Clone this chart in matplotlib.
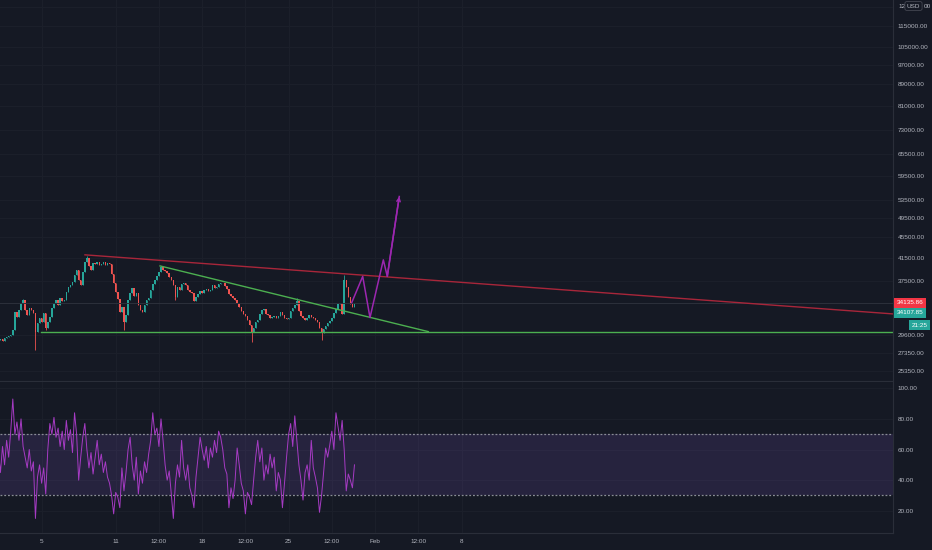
import numpy as np
import matplotlib.pyplot as plt
import matplotlib.transforms as mtransforms
from matplotlib.ticker import NullLocator

plt.rcParams['font.family'] = ['Liberation Sans', 'DejaVu Sans']

# BTCUSD 4h candles, 1 Jan 2021 12:00 -> 30 Jan 2021 08:00 (x = day of January)
first_day = 1.5
candle_step = 1 / 6
first_open = 29300
closes = [
    29000, 29130, 28880,
    29260, 29390, 29520, 29650, 30300, 32800,
    32080, 33090, 34120, 34570, 33090, 32360,
    33380, 33090, 32650, 30040, 31250, 31940,
    31390, 32650, 30570, 31390, 32080, 33380,
    34120, 34570, 33820, 34870, 34420, 34570,
    35800, 36600, 36930, 37410, 38580, 39430,
    37750, 36930, 39090, 40850, 41580, 40130,
    39430, 40670, 40500, 40850, 40320, 40500,
    40850, 40320, 40670, 40500, 38750, 37250,
    35800, 34720, 32800, 33520, 31390, 32360,
    34570, 35650, 36440, 35180, 35650, 33820,
    33090, 32800, 33820, 34570, 34870, 36120,
    37090, 37750, 38420, 39090, 39950, 39430,
    39260, 38920, 38250, 37750, 36930, 35030,
    36600, 36120, 37090, 37250, 36930, 36120,
    35800, 35650, 34420, 35030, 35500, 35960,
    35650, 36120, 36280, 35960, 36120, 36930,
    36440, 36600, 37090, 37250, 37250, 36770,
    36280, 35500, 35180, 34870, 34570, 34120,
    33520, 32940, 32500, 32220, 31660, 30980,
    30040, 30570, 31390, 31660, 32500, 33090,
    33230, 32500, 32360, 31940, 32080, 32220,
    31940, 32220, 32800, 32360, 31940, 31800,
    31940, 32940, 33380, 33820, 34420, 32940,
    32220, 31940, 31660, 31940, 32360, 32080,
    31940, 31660, 31390, 30570, 29910, 30430,
    30840, 31250, 31530, 31940, 32650, 33230,
    33970, 34120, 32500, 37750, 36600, 35030,
    33970, 33520, 34107.85,
]
wick_high_idx = [12, 43, 79, 145, 168]
wick_high = [34780, 41950, 40100, 34800, 38580]
wick_low_idx = [18, 23, 61, 86, 123, 157]
wick_low = [27700, 30300, 30300, 34570, 28750, 29000]

rsi = [
    58, 45, 62,
    50, 66, 55, 72, 93, 70,
    78, 66, 80, 62, 55, 48,
    60, 46, 52, 15, 42, 50,
    38, 48, 31, 60, 77, 70,
    81, 68, 74, 62, 72, 60,
    79, 66, 73, 58, 84, 70,
    40, 55, 68, 77, 60, 48,
    58, 44, 55, 66, 50, 57,
    45, 52, 42, 38, 30, 18,
    32, 29, 22, 48, 33, 45,
    60, 68, 50, 40, 55, 31,
    46, 38, 52, 45, 57, 66,
    84, 70, 74, 62, 80, 66,
    50, 40, 46, 31, 15, 38,
    50, 42, 66, 48, 40, 50,
    35, 30, 22, 42, 55, 68,
    60, 53, 62, 48, 61, 55,
    66, 58, 72, 68, 60, 48,
    44, 22, 35, 28, 40, 61,
    50, 38, 33, 18, 32, 29,
    24, 40, 55, 66, 52, 61,
    40, 50, 44, 57, 48, 55,
    33, 45, 40, 22, 38, 55,
    70, 77, 62, 82, 66, 50,
    40, 27, 45, 50, 40, 66,
    48, 42, 35, 19, 30, 45,
    61, 55, 63, 72, 60, 84,
    75, 66, 79, 60, 33, 44,
    40, 35, 50,
]

# drawings (day, price anchors)
red_line_days = [8.51, 73.94]
red_line_prices = [42130, 32510]
green_diag_days = [14.59, 36.31]
green_diag_prices = [40130, 30080]
green_flat_days = [4.93, 73.94]
green_flat_prices = [30080, 30080]
path_days = [30.11, 31.0, 31.59, 32.67, 32.99, 33.96]
path_prices = [34160, 38330, 31990, 41210, 38330, 54420]

price_ticks = [125000, 115000, 105000, 97000, 89000, 81000, 73000, 65500, 59500,
               53500, 49500, 45500, 41500, 37500, 29600, 27350, 25350]
rsi_ticks = [20, 40, 60, 80, 100]
date_ticks = [5, 11, 14.5, 18, 21.5, 25, 28.5, 32, 35.5, 39]
date_labels = ['5', '11', '12:00', '18', '12:00', '25', '12:00', 'Feb', '12:00', '8']
mark_price = 34135.86

bg = '#151924'
grid_col = '#1c202b'
sep_col = '#2a2e39'
txt_col = '#b2b5be'
up_col = '#26a69a'
down_col = '#ef5350'
fs = 4.6

W, H = 932, 550
fig = plt.figure(figsize=(W / 100, H / 100), dpi=100, facecolor=bg)


def px_box(x0, y0, x1, y1):
    return [x0 / W, 1 - y1 / H, (x1 - x0) / W, (y1 - y0) / H]


ax = fig.add_axes(px_box(0, 0, 893, 381))
ax_rsi = fig.add_axes(px_box(0, 382, 893, 533), sharex=ax)

for a in (ax, ax_rsi):
    a.set_facecolor(bg)
    a.set_axisbelow(True)
    a.grid(True, color=grid_col, lw=0.7)
    for s in ('top', 'left'):
        a.spines[s].set_visible(False)
    for s in ('bottom', 'right'):
        a.spines[s].set_color(sep_col)
        a.spines[s].set_linewidth(0.8)
    a.yaxis.tick_right()
    a.tick_params(axis='both', length=0, labelsize=fs, colors=txt_col)
    a.tick_params(axis='y', pad=3.5)

# candles
days = first_day + np.arange(len(closes)) * candle_step
c = np.array(closes, dtype=float)
o = np.array([first_open] + closes[:-1], dtype=float)
body_lo = np.minimum(o, c)
body_hi = np.maximum(o, c)
highs = body_hi.copy()
lows = body_lo.copy()
highs[wick_high_idx] = wick_high
lows[wick_low_idx] = wick_low
cols = np.where(c >= o, up_col, down_col)

ax.set_yscale('log')
ax.vlines(days, lows, highs, colors=cols, lw=0.6)
ax.bar(days, body_hi - body_lo, bottom=body_lo, width=0.12, color=cols, linewidth=0)

ax.axhline(c[-1], color='#2c303b', lw=0.7)

# drawings
ax.plot(red_line_days, red_line_prices, color='#a8263a', lw=1.0)
ax.plot(green_diag_days, green_diag_prices, color='#4caf50', lw=1.0)
ax.plot(green_flat_days, green_flat_prices, color='#4caf50', lw=1.0)
ax.plot(path_days, path_prices, color='#9c27b0', lw=1.1)
ax.annotate('', xy=(path_days[-1], path_prices[-1]), xytext=(path_days[-2], path_prices[-2]),
            arrowprops=dict(arrowstyle='->', color='#9c27b0', lw=1.1, shrinkA=0, shrinkB=0,
                            mutation_scale=6))

ax.set_xlim(1.63, 73.94)
ax.set_ylim(24220, 128900)
ax.yaxis.set_minor_locator(NullLocator())
ax.set_yticks(price_ticks)
# the top label is mostly hidden behind the currency box
ax.set_yticklabels([''] + [f'{t:.2f}' for t in price_ticks[1:]])
ax.set_xticks(date_ticks)
ax.tick_params(axis='x', labelbottom=False)

# right price labels
blend = mtransforms.blended_transform_factory(ax.transAxes, ax.transData)
ax.text(1.004, mark_price, f'{mark_price:.2f}', transform=blend, ha='left', va='center',
        fontsize=fs, color='white', clip_on=False,
        bbox=dict(boxstyle='square,pad=0.35', fc='#f23645', ec='none'))
ax.annotate(f'{closes[-1]:.2f}', xy=(1.004, c[-1]), xycoords=blend, xytext=(0, -7.2),
            textcoords='offset points', ha='left', va='center', fontsize=fs, color='white',
            annotation_clip=False,
            bbox=dict(boxstyle='square,pad=0.35', fc=up_col, ec='none'))
ax.annotate('21:25', xy=(1.0385, c[-1]), xycoords=blend, xytext=(0, -16),
            textcoords='offset points', ha='right', va='center', fontsize=fs, color='white',
            annotation_clip=False,
            bbox=dict(boxstyle='square,pad=0.35', fc=up_col, ec='none'))

top_label = f'{price_ticks[0]:.2f}'
fig.text(898 / W, 1 - 6 / H, top_label[:2], ha='left', va='center', fontsize=fs, color=txt_col)
fig.text(924 / W, 1 - 6 / H, top_label[-2:], ha='left', va='center', fontsize=fs, color=txt_col)
fig.text(913.5 / W, 1 - 6 / H, 'USD', ha='center', va='center', fontsize=fs, color=txt_col,
         bbox=dict(boxstyle='round,pad=0.3', fc=bg, ec='#434651', lw=0.6))

# RSI pane
ax_rsi.axhspan(30, 70, color='#7e57c2', alpha=0.17, lw=0)
ax_rsi.axhline(70, color='#8a8d96', lw=0.9, ls=(0, (1.5, 1.5)))
ax_rsi.axhline(30, color='#8a8d96', lw=0.9, ls=(0, (1.5, 1.5)))
ax_rsi.plot(days, rsi, color='#a63bc4', lw=0.7)
ax_rsi.set_ylim(5.5, 104.1)
ax_rsi.set_yticks(rsi_ticks)
ax_rsi.set_yticklabels([f'{t:.2f}' for t in rsi_ticks])
ax_rsi.set_xticks(date_ticks)
ax_rsi.set_xticklabels(date_labels)
ax_rsi.tick_params(axis='x', pad=4)

fig.savefig('out.png', dpi=100, facecolor=bg)
